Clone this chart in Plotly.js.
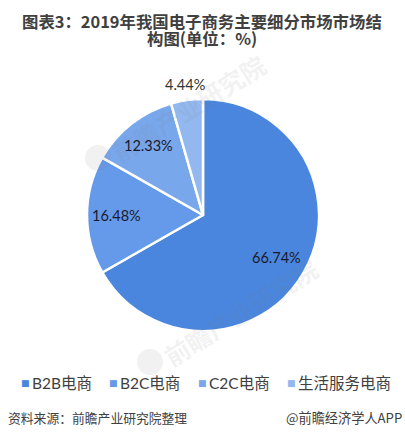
<!DOCTYPE html>
<html><head><meta charset="utf-8">
<script src="https://cdn.plot.ly/plotly-3.0.1.min.js"></script>
<style>html,body{margin:0;padding:0;background:#fff}</style></head>
<body><div id="c" style="width:405px;height:438px"></div>
<script>
const categories=['B2B电商','B2C电商','C2C电商','生活服务电商'];
const shares=[66.74,16.48,12.33,4.44];
const sliceColors=['#4a86de','#659aeb','#79a7ec','#93b8f0'];
const labelTexts=['66.74%','16.48%','12.33%','4.44%'];
const labelRadii=[85,87,88,132];
const legendX=[20,108,197,286];
const titleLines=['图表3：2019年我国电子商务主要细分市场市场结','构图(单位：%)'];
const sourceText='资料来源：前瞻产业研究院整理';
const creditText='@前瞻经济学人APP';
const watermarkText='前瞻产业研究院';
const F='Lato, "Noto Sans CJK SC", sans-serif';
const C='"Noto Sans CJK SC", sans-serif';
const cx=203,cy=215;
const total=shares.reduce((a,b)=>a+b,0);
const data=[{type:'pie',labels:categories,values:shares,sort:false,direction:'clockwise',rotation:0,
 marker:{colors:sliceColors,line:{color:'#fff',width:2.5}},
 textinfo:'none',hoverinfo:'none',automargin:false,showlegend:false,
 domain:{x:[87/405,319/405],y:[1-331/438,1-99/438]}}];
const note=(t,x,y,a,s,c,f)=>({text:t,xref:'paper',yref:'paper',x:x/405,y:1-y/438,xanchor:a,yanchor:'middle',showarrow:false,borderpad:0,font:{family:f||C,size:s,color:c}});
const mark=(x,y)=>({...note('<b>'+watermarkText+'</b>',x,y,'center',25,'rgba(120,120,120,0.11)'),xanchor:'center',textangle:-32});
const logo=(x,y)=>({type:'circle',xref:'paper',yref:'paper',x0:(x-13)/405,x1:(x+13)/405,y0:1-(y+13)/438,y1:1-(y-13)/438,fillcolor:'rgba(120,120,120,0.10)',line:{width:0}});
let run=0;
const sliceLabels=shares.map((v,i)=>{const mid=(run+v/2)/total*2*Math.PI;run+=v;
 return note(labelTexts[i],cx+labelRadii[i]*Math.sin(mid),cy-labelRadii[i]*Math.cos(mid),'center',14.5,i==3?'#333333':'#1a1a2a',F);});
const legendItems=categories.flatMap((c,i)=>[
 note('■',legendX[i],383,'left',9,sliceColors[i],'DejaVu Sans'),
 note(c,legendX[i]+11,383,'left',15.5,'#404040',F)]);
const layout={width:405,height:438,margin:{l:0,r:0,t:0,b:0},paper_bgcolor:'#fff',showlegend:false,
 shapes:[logo(98,158),logo(150,362)],
 annotations:[
  mark(188,108),mark(240,312),
  note('<b>'+titleLines[0]+'</b>',202,21,'center',16.4,'#404040'),
  note('<b>'+titleLines[1]+'</b>',202,38,'center',16.4,'#404040'),
  note(sourceText,7,417,'left',12.8,'#404040'),
  note(creditText,403,417,'right',13.2,'#404040'),
  ...sliceLabels,...legendItems]};
Plotly.newPlot('c',data,layout,{displayModeBar:false,staticPlot:true});
</script></body></html>
